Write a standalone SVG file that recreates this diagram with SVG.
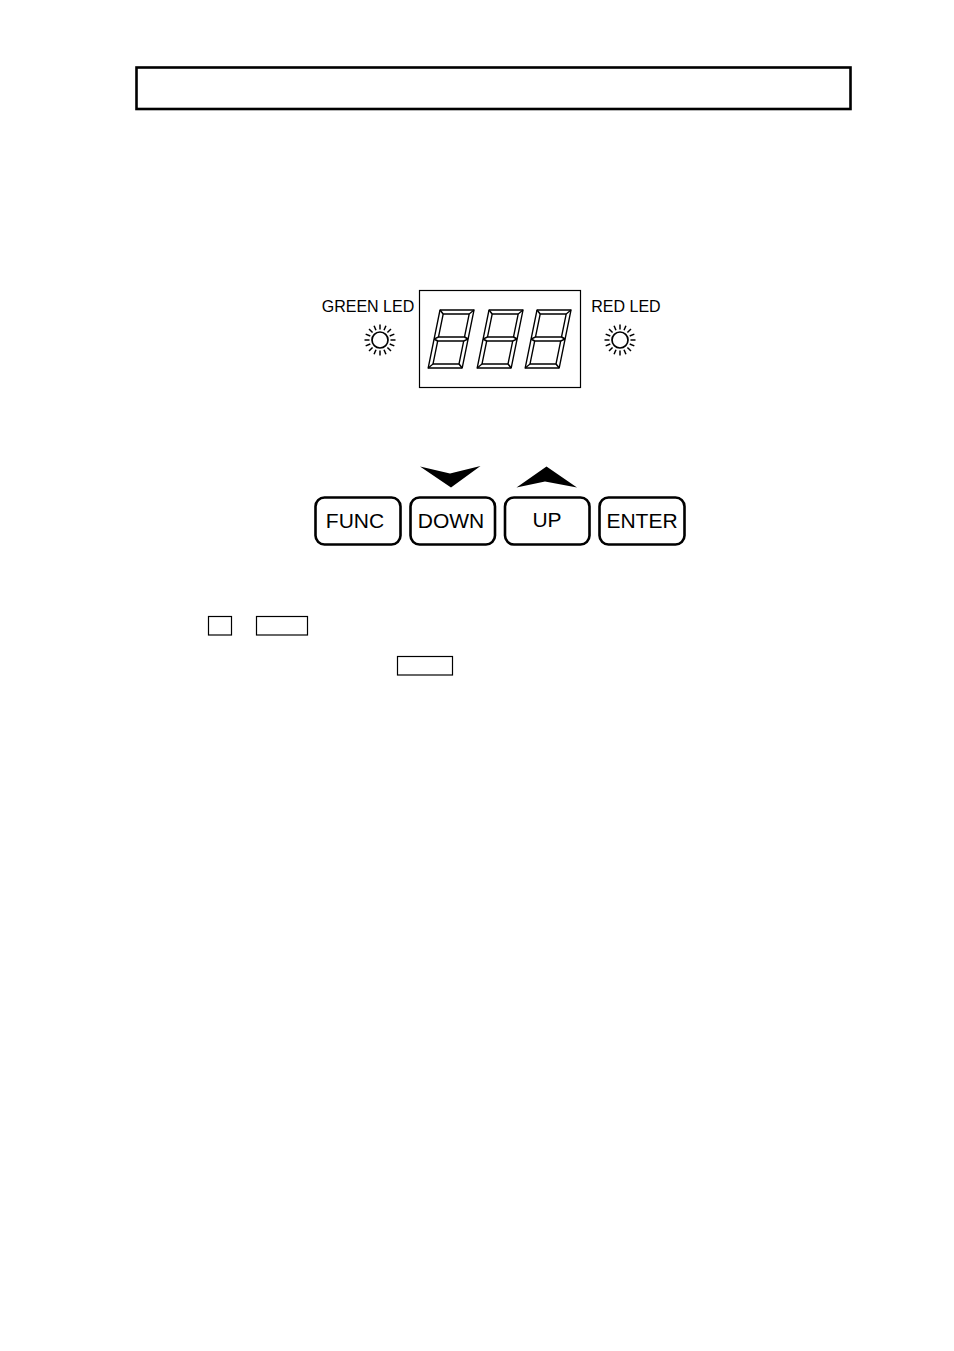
<svg xmlns="http://www.w3.org/2000/svg" xmlns:xlink="http://www.w3.org/1999/xlink" width="954" height="1351" viewBox="0 0 954 1351">
<style>
.t{font-family:"Liberation Sans",Arial,sans-serif;fill:#000}
.lbl{font-size:16px}
.btn{font-size:21px}
.seg{fill:none;stroke:#000;stroke-width:1.4;stroke-linejoin:round}
.b{fill:#fff;stroke:#000;stroke-width:2.6}
.sb{fill:none;stroke:#000;stroke-width:1.2}
.ray{stroke:#000;stroke-width:1.5}
</style>
<defs>
<g id="digit">
<rect class="seg" x="0" y="0" width="34" height="58"/>
<rect class="seg" x="4" y="4" width="26" height="23"/>
<rect class="seg" x="4" y="31" width="26" height="23"/>
<path class="seg" d="M0 0L4 4M34 0L30 4M0 58L4 54M34 58L30 54M0 29L4 27M0 29L4 31M34 29L30 27M34 29L30 31"/>
</g>
<g id="led">
<circle r="8" fill="#fff" stroke="#000" stroke-width="1.7"/>
<g class="ray">
<line x1="0" y1="-10.5" x2="0" y2="-15.5"/>
<line x1="0" y1="-10.5" x2="0" y2="-15.5" transform="rotate(22.5)"/>
<line x1="0" y1="-10.5" x2="0" y2="-15.5" transform="rotate(45)"/>
<line x1="0" y1="-10.5" x2="0" y2="-15.5" transform="rotate(67.5)"/>
<line x1="0" y1="-10.5" x2="0" y2="-15.5" transform="rotate(90)"/>
<line x1="0" y1="-10.5" x2="0" y2="-15.5" transform="rotate(112.5)"/>
<line x1="0" y1="-10.5" x2="0" y2="-15.5" transform="rotate(135)"/>
<line x1="0" y1="-10.5" x2="0" y2="-15.5" transform="rotate(157.5)"/>
<line x1="0" y1="-10.5" x2="0" y2="-15.5" transform="rotate(180)"/>
<line x1="0" y1="-10.5" x2="0" y2="-15.5" transform="rotate(202.5)"/>
<line x1="0" y1="-10.5" x2="0" y2="-15.5" transform="rotate(225)"/>
<line x1="0" y1="-10.5" x2="0" y2="-15.5" transform="rotate(247.5)"/>
<line x1="0" y1="-10.5" x2="0" y2="-15.5" transform="rotate(270)"/>
<line x1="0" y1="-10.5" x2="0" y2="-15.5" transform="rotate(292.5)"/>
<line x1="0" y1="-10.5" x2="0" y2="-15.5" transform="rotate(315)"/>
<line x1="0" y1="-10.5" x2="0" y2="-15.5" transform="rotate(337.5)"/>
</g>
</g>
</defs>
<rect width="954" height="1351" fill="#fff"/>
<g id="title-box">
<rect x="136.5" y="67.5" width="714" height="41.5" fill="none" stroke="#000" stroke-width="2.6"/>
</g>
<g id="display">
<rect x="419.5" y="290.5" width="161" height="97" fill="none" stroke="#000" stroke-width="1.2"/>
<use xlink:href="#digit" transform="translate(440,310) skewX(-11.5)"/>
<use xlink:href="#digit" transform="translate(489,310) skewX(-11.5)"/>
<use xlink:href="#digit" transform="translate(537,310) skewX(-11.5)"/>
</g>
<g id="green-led">
<text class="t lbl" x="368" y="312" text-anchor="middle">GREEN LED</text>
<use xlink:href="#led" x="380" y="340"/>
</g>
<g id="red-led">
<text class="t lbl" x="626" y="312" text-anchor="middle">RED LED</text>
<use xlink:href="#led" x="620" y="340"/>
</g>
<g id="arrows">
<path d="M420 466.5L450 473.5L480.5 466L451 487.5Z" fill="#000"/>
<path d="M516.5 487.5L546.5 466.5L577 487.5L545 481.5Z" fill="#000"/>
</g>
<g id="btn-func">
<rect class="b" x="315.5" y="497.5" width="85" height="47" rx="9"/>
<text class="t btn" x="355" y="528" text-anchor="middle">FUNC</text>
</g>
<g id="btn-down">
<rect class="b" x="410.5" y="497.5" width="84.5" height="47" rx="9"/>
<text class="t btn" x="451" y="528" text-anchor="middle">DOWN</text>
</g>
<g id="btn-up">
<rect class="b" x="505" y="497.5" width="84.5" height="47" rx="9"/>
<text class="t btn" x="547" y="527" text-anchor="middle">UP</text>
</g>
<g id="btn-enter">
<rect class="b" x="599.5" y="497.5" width="85" height="47" rx="9"/>
<text class="t btn" x="642" y="528" text-anchor="middle">ENTER</text>
</g>
<g id="small-boxes">
<rect class="sb" x="208.5" y="616.5" width="23" height="18.5"/>
<rect class="sb" x="256.5" y="616.5" width="51" height="18.5"/>
<rect class="sb" x="397.5" y="656.5" width="55" height="18.5"/>
</g>
</svg>
